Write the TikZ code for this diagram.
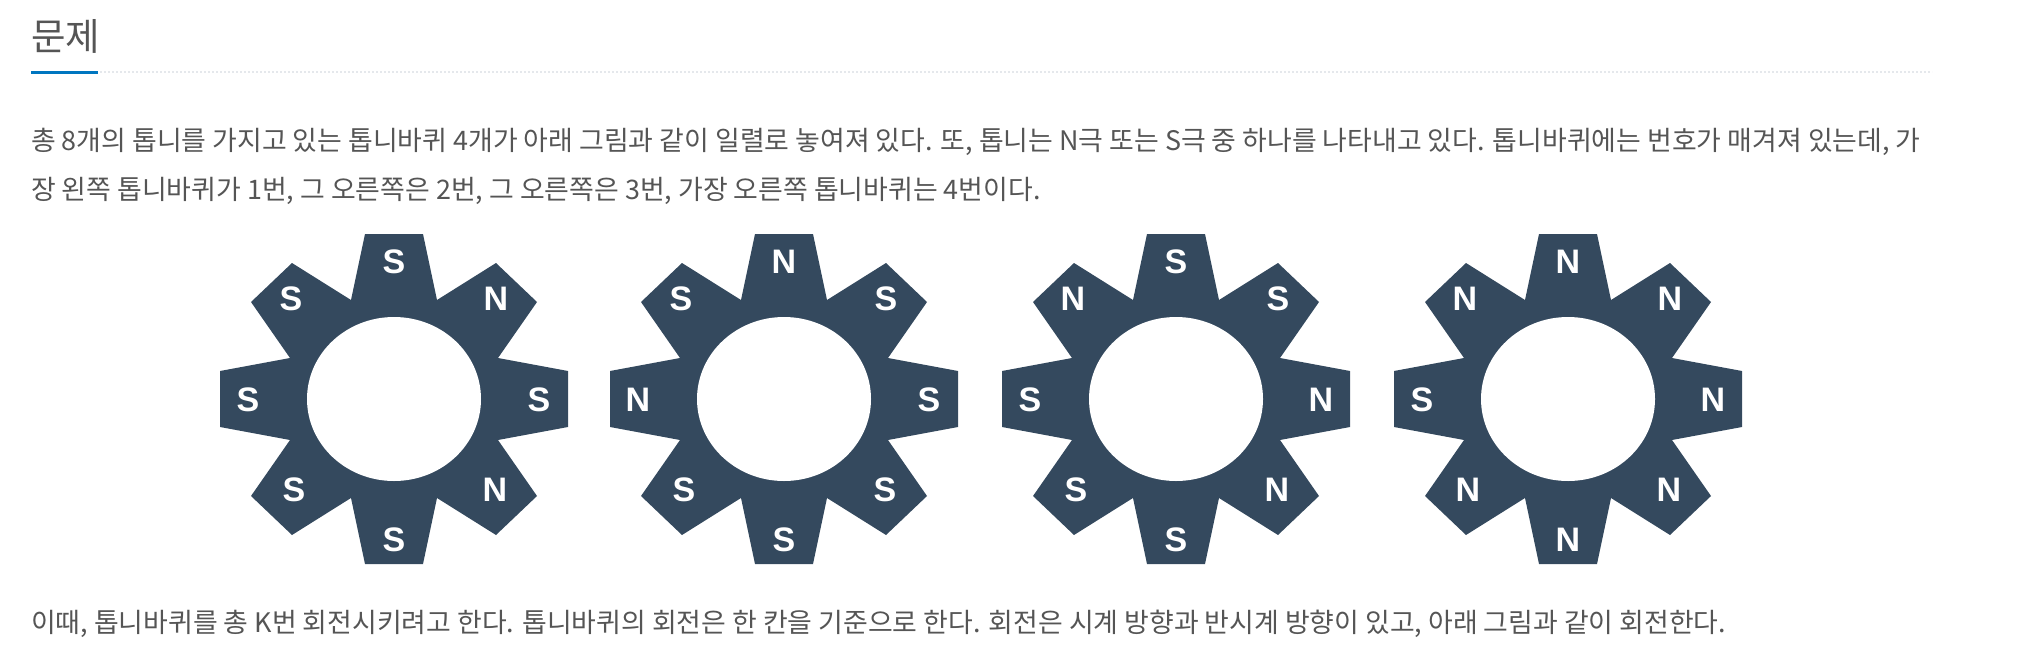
\documentclass[tikz,border=0pt]{standalone}
\usepackage{fontspec}
\setmainfont{Noto Sans CJK KR}
\newfontfamily\labelfont{Liberation Sans}
\usepackage{xcolor}
\usetikzlibrary{positioning}
\definecolor{gearcolor}{HTML}{34495E}
\definecolor{textcolor}{HTML}{555555}
\definecolor{barcolor}{HTML}{0076C0}
\definecolor{dotcolor}{HTML}{E5E8EC}

\begin{document}
\begin{tikzpicture}[
    x=1pt, y=-1pt,
    bodytext/.style={anchor=base west, inner sep=0pt, text=textcolor, font=\fontsize{26.9}{30}\selectfont},
    headtext/.style={anchor=base west, inner sep=0pt, text=textcolor, font=\fontsize{37.5}{42}\selectfont},
    pole/.style={inner sep=0pt, text=white, font=\labelfont\bfseries\fontsize{34}{38}\selectfont},
    gear/.style={fill=gearcolor, draw=none},
    hole/.style={fill=white, draw=none}
]
\useasboundingbox (0,0) rectangle (2026,653);

% Heading
\node[headtext] (title) at (31,50) {문제};
\draw[dotcolor, line width=2pt, dotted] (100,72) -- (1932,72);
\draw[barcolor, line width=3pt] (31,72.5) -- (98,72.5);

% Paragraph
\node[bodytext] (line1) at (31,150) {총 8개의 톱니를 가지고 있는 톱니바퀴 4개가 아래 그림과 같이 일렬로 놓여져 있다. 또, 톱니는 N극 또는 S극 중 하나를 나타내고 있다. 톱니바퀴에는 번호가 매겨져 있는데, 가};
\node[bodytext] (line2) at (31,199) {장 왼쪽 톱니바퀴가 1번, 그 오른쪽은 2번, 그 오른쪽은 3번, 가장 오른쪽 톱니바퀴는 4번이다.};

% Gears
\foreach \cx/\name in {394/one, 784/two, 1176/three, 1568/four} {
    \begin{scope}[shift={(\cx,399)}]
        \fill[gear] (-29,-165) -- (29,-165) -- (43,-99) -- (102,-136) -- (143,-97) -- (104,-41)
            -- (174,-28) -- (174,28) -- (104,41) -- (143,97) -- (102,136) -- (43,99)
            -- (29,165) -- (-29,165) -- (-43,99) -- (-102,136) -- (-143,97) -- (-104,41)
            -- (-174,28) -- (-174,-28) -- (-104,-41) -- (-143,-97) -- (-102,-136) -- (-43,-99) -- cycle;
        \fill[hole] (0,0) ellipse [x radius=87, y radius=82];
    \end{scope}
}

% Poles, clockwise from the top
\foreach \cx/\a/\b/\c/\d/\e/\f/\g/\h in {394/S/N/S/N/S/S/S/S, 784/N/S/S/S/S/S/N/S, 1176/S/S/N/N/S/S/S/N, 1568/N/N/N/N/N/N/S/N} {
    \node[pole] (p1\cx) at (\cx,262) {\a};
    \node[pole] (p2\cx) at (\cx+102,299) {\b};
    \node[pole] (p3\cx) at (\cx+145,400) {\c};
    \node[pole] (p4\cx) at (\cx+101,490) {\d};
    \node[pole] (p5\cx) at (\cx,540) {\e};
    \node[pole] (p6\cx) at (\cx-100,490) {\f};
    \node[pole] (p7\cx) at (\cx-146,400) {\g};
    \node[pole] (p8\cx) at (\cx-103,299) {\h};
}

% Closing line
\node[bodytext] (line3) at (31,632) {이때, 톱니바퀴를 총 K번 회전시키려고 한다. 톱니바퀴의 회전은 한 칸을 기준으로 한다. 회전은 시계 방향과 반시계 방향이 있고, 아래 그림과 같이 회전한다.};
\end{tikzpicture}
\end{document}
